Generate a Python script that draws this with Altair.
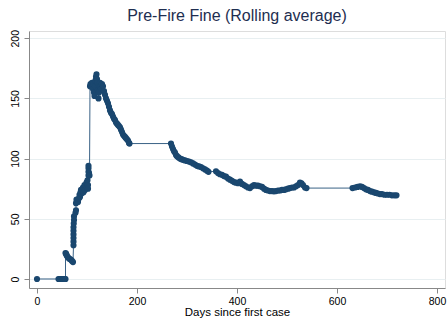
import altair as alt
import pandas as pd

# Days since first case (x) and rolling-average fine (y)
days = [
    0, 43, 45, 47, 48, 50, 52, 54, 56, 57,
    57, 58, 59, 60, 62, 64, 66, 68, 70, 72,
    73, 73, 73, 73, 73, 73, 73.5, 74, 74,
    77, 78, 78, 79, 81, 82, 84, 85, 86, 87, 88, 89, 90, 92, 93, 95, 96, 98, 99, 100, 101, 102, 102,
    103, 103, 103, 103, 104, 105,
    106, 107, 108, 110, 111, 112, 113, 114, 115, 116, 117, 118, 119, 120, 121, 122, 123, 124, 125,
    126, 127, 128, 130, 132, 134, 136, 138, 140, 142, 144, 146, 148, 150, 152, 154, 156, 158, 160,
    162, 164, 166, 168, 170, 172, 174, 176, 178, 180, 182, 184, 185,
    268, 270, 272, 274, 276, 278, 280, 283, 286, 289, 292, 296, 300, 304, 308, 312, 316, 320, 324,
    328, 332, 336, 340, 343,
    358, 362, 366, 370, 374, 378, 382, 386, 390, 394, 398, 402, 406, 410, 414, 418, 422, 426, 430,
    434, 438, 442, 446, 450, 454, 458, 462, 466, 470, 474, 478, 482, 486, 490, 494, 498, 502, 506,
    510, 514, 518, 522, 526, 529, 532, 536, 539,
    631, 636, 641, 646, 650, 654, 658, 662, 666, 670, 674, 678, 682, 686, 690, 695, 700, 705, 710,
    715, 719,
]
fine = [
    0, 0, 0, 0, 0, 0, 0, 0, 0, 0,
    21.5, 21, 20, 19, 18, 17, 16.5, 16, 15, 14,
    28, 31, 34, 37, 40, 43, 46, 49, 52,
    55, 57, 63, 66, 65, 64, 67, 70, 68, 72, 74, 71, 73, 76, 72, 78, 74, 77, 80, 76, 82, 78, 75,
    86, 89, 92, 94, 88, 86,
    160, 162, 161, 163, 160, 158, 162, 155, 152, 160, 165, 168, 170, 166, 163, 157, 150, 155, 161,
    163, 160, 158, 162, 160, 156, 153, 150, 148, 146, 143, 140, 138, 137, 135, 133, 132, 130, 129,
    128, 127, 126, 124, 122, 120, 119, 118, 117, 116, 115, 113, 112.5,
    112.5, 110, 108, 106, 105, 103, 102, 101, 100, 99.5, 99, 98.5, 98, 97.5, 97, 96, 95, 94, 93.5,
    93, 92, 91, 90, 89,
    89.5, 88, 87, 86.5, 85.5, 85, 83.5, 82.5, 81.5, 80.5, 80, 79.5, 81, 79, 78, 77, 76, 75.5, 77,
    78, 77.5, 77.5, 77, 76.5, 75, 74, 73.5, 73, 73, 72.8, 73, 73.5, 73.5, 74, 74, 74.5, 75, 75.5,
    76, 76, 77, 78, 80, 79.5, 78, 76, 75.5,
    75.5, 76, 76.5, 77, 76.5, 75.5, 74.5, 74, 73, 72.5, 72, 71.5, 71, 70.5, 70.5, 70, 70, 70, 69.5,
    69.5, 69.5,
]
x_ticks = [0, 200, 400, 600, 800]
y_ticks = [0, 50, 100, 150, 200]

df = pd.DataFrame({"days": days, "fine": fine, "idx": list(range(len(days)))})

navy = "#1a476f"

x = alt.X("days:Q", title="Days since first case",
          scale=alt.Scale(domain=[-16, 816], nice=False, zero=False),
          axis=alt.Axis(values=x_ticks, grid=False, labelFontSize=10.5, titleFontSize=11.5,
                        titleFontWeight="normal", titlePadding=0, labelPadding=3))
y = alt.Y("fine:Q", title=None,
          scale=alt.Scale(domain=[-7.5, 206], nice=False, zero=False),
          axis=alt.Axis(values=y_ticks, grid=True, gridColor="#e8eff1", labelAngle=270,
                        labelFontSize=10.5, labelPadding=4))

base = alt.Chart(df)
line = base.mark_line(color="#3a6286", strokeWidth=1).encode(x=x, y=y, order="idx:Q")
pts = base.mark_circle(color=navy, size=38, opacity=1).encode(x=x, y=y)

chart = (line + pts).properties(
    width=416, height=257,
    title=alt.TitleParams("Pre-Fire Fine (Rolling average)", fontSize=16, font="Liberation Sans",
                          fontWeight="normal", color="#1e2e50", anchor="middle", offset=5),
    autosize=alt.AutoSizeParams(type="none"),
    padding={"left": 29, "top": 31, "right": 3, "bottom": 32},
).configure_view(stroke=None).configure_axis(
    domainColor="#8a8a8a", tickColor="#8a8a8a", labelColor="#000000", titleColor="#000000",
    labelFont="Liberation Sans", titleFont="Liberation Sans", titleFontWeight="normal",
    tickSize=5,
).configure(background="white")

chart.save("out.html", embed_options={"renderer": "svg", "actions": False})
